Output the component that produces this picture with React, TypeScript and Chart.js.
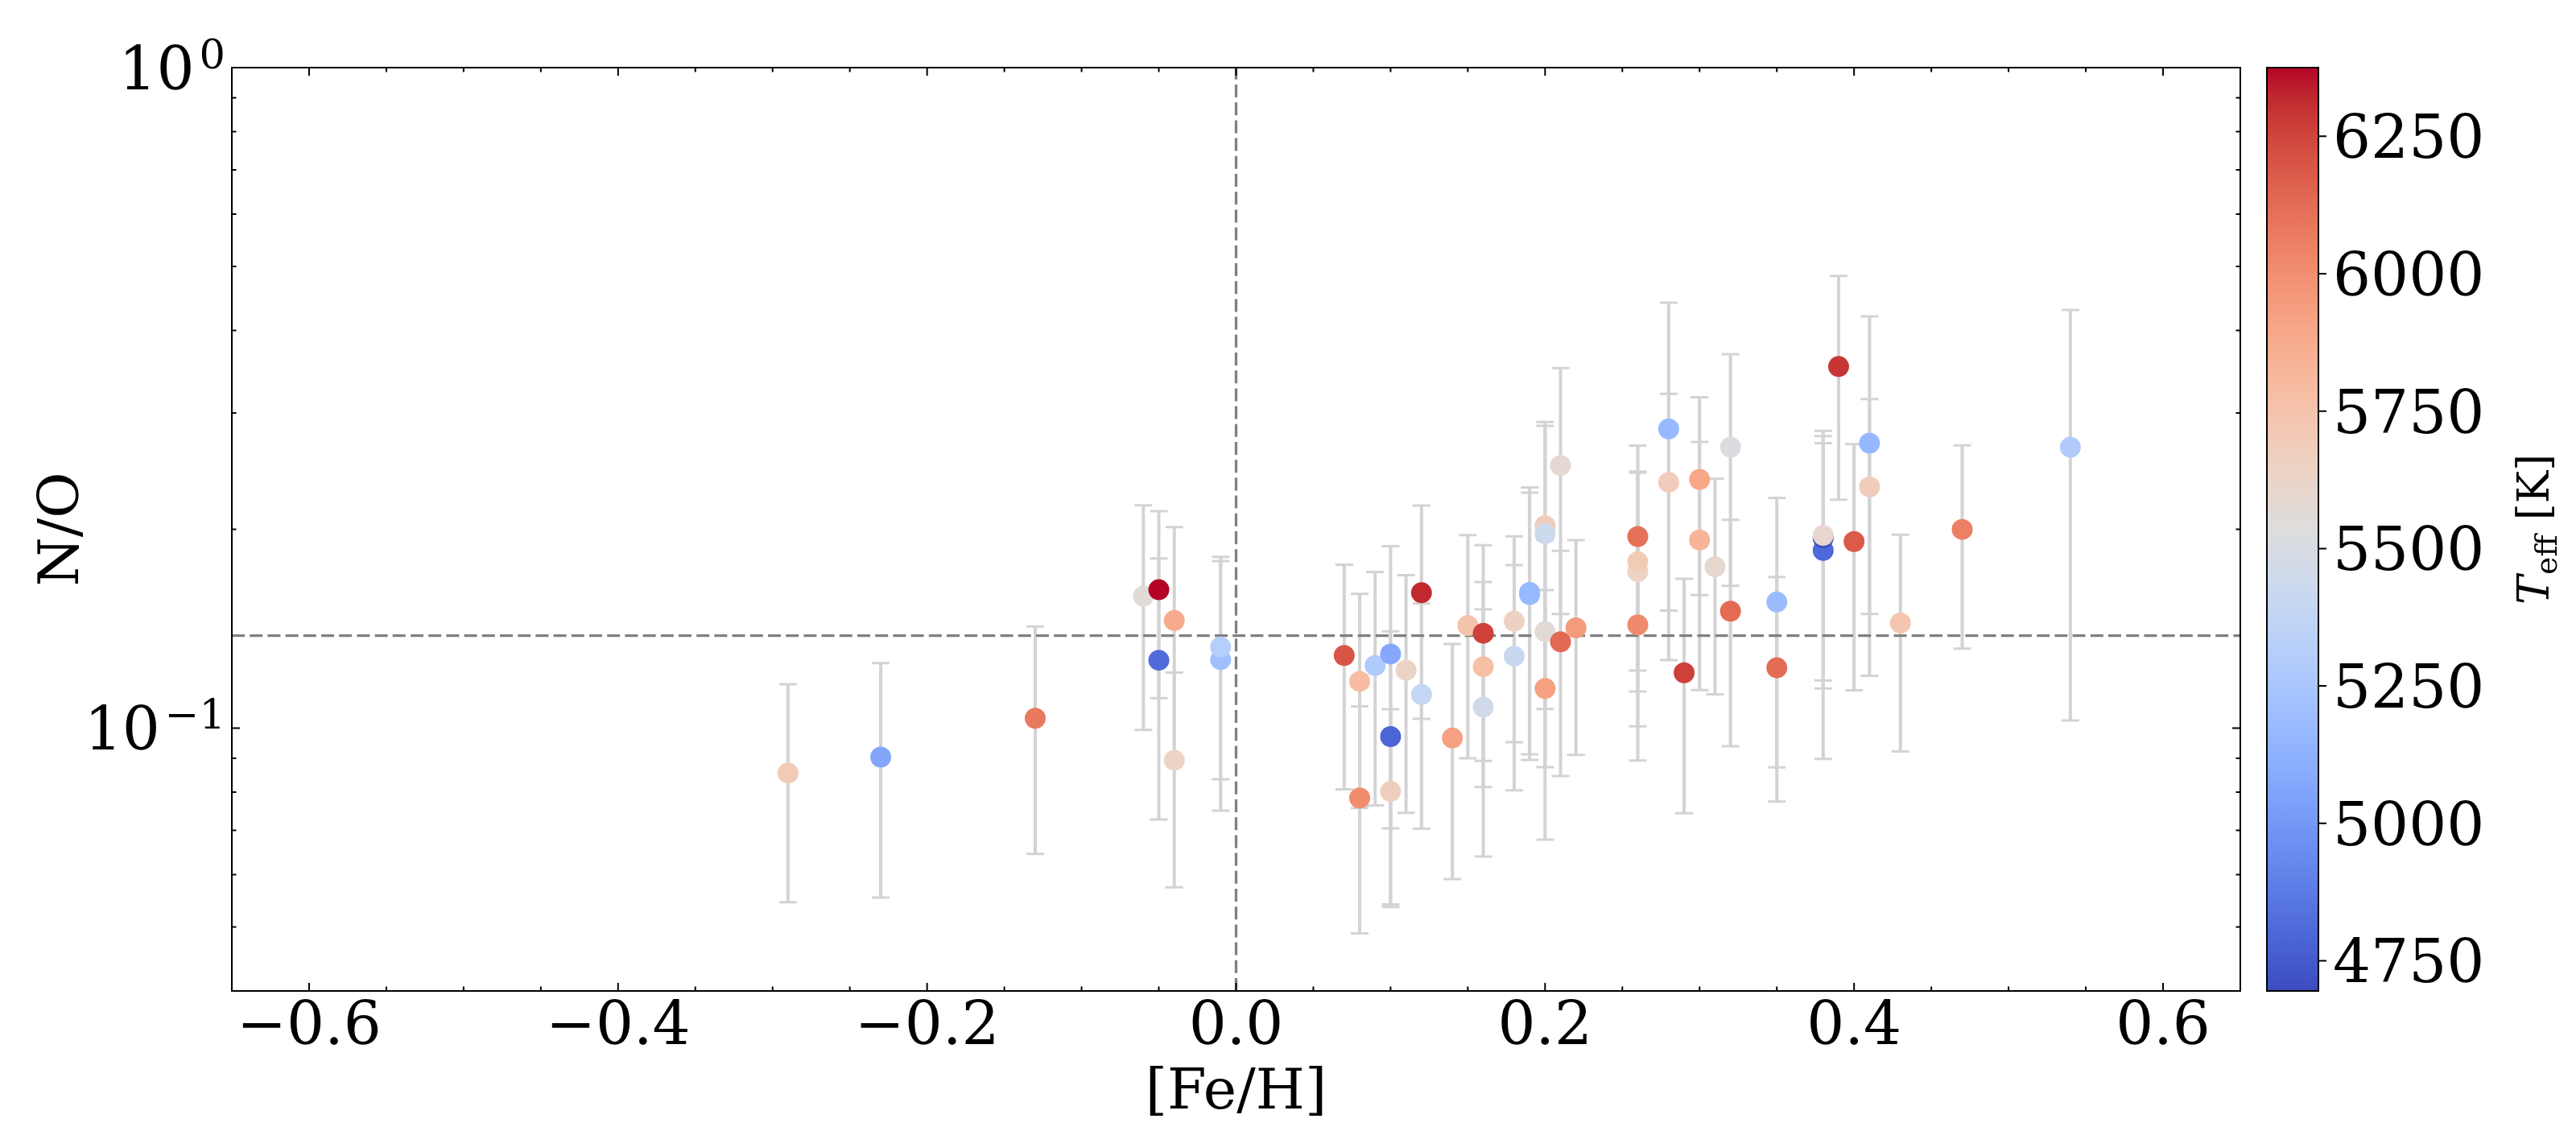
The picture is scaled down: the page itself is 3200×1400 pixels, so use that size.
import { useEffect, useRef } from "react"
import { Chart, registerables, type Plugin } from "chart.js"

Chart.register(...registerables)

// [Fe/H], N/O, N/O error and Teff of each star
const feh = [
  -0.29, -0.23, -0.13, -0.06, -0.05, -0.05, -0.04, -0.04, -0.01, -0.01,
  0.07, 0.08, 0.08, 0.09, 0.1, 0.1, 0.1, 0.11, 0.12, 0.12,
  0.14, 0.15, 0.16, 0.16, 0.16, 0.18, 0.18, 0.19, 0.19, 0.2,
  0.2, 0.2, 0.2, 0.21, 0.21, 0.22, 0.26, 0.26, 0.26, 0.26,
  0.28, 0.28, 0.29, 0.3, 0.3, 0.31, 0.32, 0.32, 0.35, 0.35,
  0.38, 0.38, 0.38, 0.39, 0.4, 0.41, 0.41, 0.43, 0.47, 0.54,
]
const nO = [
  0.0855, 0.0904, 0.1035, 0.1584, 0.1267, 0.162, 0.1455, 0.0894, 0.127, 0.1327,
  0.1288, 0.1177, 0.0784, 0.1244, 0.1295, 0.0971, 0.0802, 0.1224, 0.1603, 0.1124,
  0.0966, 0.143, 0.1392, 0.1239, 0.1076, 0.1452, 0.1285, 0.1593, 0.1605, 0.2026,
  0.1969, 0.14, 0.1148, 0.2499, 0.1351, 0.1418, 0.195, 0.1726, 0.1786, 0.1433,
  0.2838, 0.2356, 0.1213, 0.238, 0.1927, 0.1755, 0.2662, 0.1503, 0.1552, 0.1234,
  0.1858, 0.1941, 0.1958, 0.3527, 0.1916, 0.27, 0.2319, 0.1442, 0.1999, 0.2662,
]
const nOErr = [
  0.031, 0.035, 0.039, 0.059, 0.054, 0.051, 0.056, 0.032, 0.052, 0.049,
  0.048, 0.042, 0.0295, 0.048, 0.059, 0.043, 0.0266, 0.048, 0.057, 0.042,
  0.0375, 0.053, 0.05, 0.0425, 0.0437, 0.05, 0.048, 0.068, 0.071, 0.088,
  0.09, 0.0527, 0.047, 0.101, 0.0505, 0.0507, 0.0728, 0.072, 0.065, 0.054,
  0.157, 0.085, 0.047, 0.079, 0.0785, 0.063, 0.102, 0.0564, 0.068, 0.046,
  0.096, 0.076, 0.081, 0.131, 0.0775, 0.15, 0.083, 0.052, 0.068, 0.1635,
]
const teff = [
  5700, 5065, 6080, 5560, 4815, 6375, 5885, 5640, 5205, 5310,
  6200, 5790, 6010, 5280, 5075, 4790, 5675, 5635, 6320, 5385,
  5925, 5750, 6260, 5775, 5460, 5650, 5410, 5160, 5165, 5685,
  5435, 5570, 5925, 5585, 6135, 5950, 6110, 5640, 5700, 6020,
  5165, 5690, 6260, 5900, 5835, 5595, 5520, 6130, 5180, 6125,
  4805, 4700, 5600, 6290, 6185, 5160, 5685, 5735, 6055, 5285,
]

const xMajorTicks = [-0.6, -0.4, -0.2, 0, 0.2, 0.4, 0.6]
const xMinorTicks = [
  -0.55, -0.5, -0.45, -0.35, -0.3, -0.25, -0.15, -0.1, -0.05,
  0.05, 0.1, 0.15, 0.25, 0.3, 0.35, 0.45, 0.5, 0.55,
]
const yMajorTicks = [0.1, 1]
const yMajorLabels = [["10", "\u22121"], ["10", "0"]]
const yMinorTicks = [0.05, 0.06, 0.07, 0.08, 0.09, 0.2, 0.3, 0.4, 0.5, 0.6, 0.7, 0.8, 0.9]
const cbarTicks = [4750, 5000, 5250, 5500, 5750, 6000, 6250]
const teffMin = 4695
const teffMax = 6375
const solarNO = 0.138
const solarFeH = 0

// matplotlib coolwarm (Moreland) control points
const coolwarmStops = [
  [59, 76, 192], [68, 90, 204], [77, 104, 215], [87, 117, 225], [98, 130, 234],
  [108, 142, 241], [119, 154, 247], [130, 165, 251], [141, 176, 254], [152, 185, 255],
  [163, 194, 255], [174, 201, 253], [184, 208, 249], [194, 213, 244], [204, 217, 238],
  [213, 219, 230], [221, 221, 221], [229, 216, 209], [236, 211, 197], [241, 204, 185],
  [245, 196, 173], [247, 187, 160], [247, 177, 148], [247, 166, 135], [244, 154, 123],
  [241, 141, 111], [236, 127, 99], [229, 112, 88], [222, 96, 77], [213, 80, 66],
  [203, 62, 56], [192, 40, 47], [180, 4, 38],
]

function coolwarm(t: number) {
  const c = Math.min(1, Math.max(0, t)) * (coolwarmStops.length - 1)
  const i = Math.min(Math.floor(c), coolwarmStops.length - 2)
  const f = c - i
  const a = coolwarmStops[i]
  const b = coolwarmStops[i + 1]
  const m = (k: number) => Math.round(a[k] + (b[k] - a[k]) * f)
  return `rgb(${m(0)},${m(1)},${m(2)})`
}

const SERIF = '"DejaVu Serif", serif'
const TICK_FONT = 74
const LABEL_FONT = 70

const fmtX = (v: number) => {
  const s = Math.abs(v).toFixed(1)
  return v < -1e-9 ? "\u2212" + s : s
}

const errorBars: Plugin<"scatter"> = {
  id: "errorBars",
  beforeDatasetsDraw(chart) {
    const { ctx, chartArea: area } = chart
    const x = chart.scales.x
    const y = chart.scales.y
    ctx.save()
    ctx.strokeStyle = "#d3d3d3"
    feh.forEach((v, i) => {
      const px = x.getPixelForValue(v)
      const top = y.getPixelForValue(nO[i] + nOErr[i])
      const bot = y.getPixelForValue(nO[i] - nOErr[i])
      ctx.lineWidth = 4
      ctx.beginPath()
      ctx.moveTo(px, top)
      ctx.lineTo(px, bot)
      ctx.stroke()
      ctx.lineWidth = 3
      ctx.beginPath()
      ctx.moveTo(px - 11, top)
      ctx.lineTo(px + 11, top)
      ctx.moveTo(px - 11, bot)
      ctx.lineTo(px + 11, bot)
      ctx.stroke()
    })

    // solar reference lines
    ctx.strokeStyle = "#808080"
    ctx.lineWidth = 3.3
    ctx.setLineDash([16, 6.2])
    const sy = y.getPixelForValue(solarNO)
    ctx.beginPath()
    ctx.moveTo(area.left, sy)
    ctx.lineTo(area.right, sy)
    ctx.stroke()
    const sx = x.getPixelForValue(solarFeH)
    ctx.beginPath()
    ctx.moveTo(sx, area.bottom)
    ctx.lineTo(sx, area.top)
    ctx.stroke()
    ctx.restore()
  },
}

const frame: Plugin<"scatter"> = {
  id: "frame",
  afterDraw(chart) {
    const { ctx, chartArea: a } = chart
    const x = chart.scales.x
    const y = chart.scales.y
    ctx.save()
    ctx.strokeStyle = "#000"
    ctx.lineWidth = 2
    ctx.strokeRect(a.left, a.top, a.right - a.left, a.bottom - a.top)

    const tick = (vals: number[], len: number) => {
      ctx.beginPath()
      vals.forEach((v) => {
        const px = x.getPixelForValue(v)
        ctx.moveTo(px, a.bottom)
        ctx.lineTo(px, a.bottom - len)
        ctx.moveTo(px, a.top)
        ctx.lineTo(px, a.top + len)
      })
      ctx.stroke()
    }
    const tickY = (vals: number[], len: number) => {
      ctx.beginPath()
      vals.forEach((v) => {
        const py = y.getPixelForValue(v)
        ctx.moveTo(a.left, py)
        ctx.lineTo(a.left + len, py)
        ctx.moveTo(a.right, py)
        ctx.lineTo(a.right - len, py)
      })
      ctx.stroke()
    }
    tick(xMajorTicks, 10)
    tick(xMinorTicks, 5.5)
    tickY(yMajorTicks, 10)
    tickY(yMinorTicks, 5.5)

    // tick labels
    ctx.fillStyle = "#000"
    ctx.font = `${TICK_FONT}px ${SERIF}`
    ctx.textAlign = "center"
    ctx.textBaseline = "alphabetic"
    xMajorTicks.forEach((v) => {
      ctx.fillText(fmtX(v), x.getPixelForValue(v), a.bottom + 66)
    })
    yMajorTicks.forEach((v, i) => {
      const py = y.getPixelForValue(v)
      const [base, sup] = yMajorLabels[i]
      ctx.font = `51px ${SERIF}`
      ctx.textAlign = "right"
      const supW = ctx.measureText(sup).width
      ctx.fillText(sup, a.left - 8, py + 1)
      ctx.font = `${TICK_FONT}px ${SERIF}`
      ctx.fillText(base, a.left - 8 - supW - 6, py + 27)
    })

    // axis titles
    ctx.font = `${LABEL_FONT}px ${SERIF}`
    ctx.textAlign = "center"
    ctx.fillText("[Fe/H]", (a.left + a.right) / 2, 1377)
    ctx.save()
    ctx.translate(97, (a.top + a.bottom) / 2)
    ctx.rotate(-Math.PI / 2)
    ctx.fillText("N/O", 0, 0)
    ctx.restore()

    // colour bar
    const cx0 = 2816
    const cx1 = 2880
    const grad = ctx.createLinearGradient(0, a.bottom, 0, a.top)
    coolwarmStops.forEach((_, i) => {
      const t = i / (coolwarmStops.length - 1)
      grad.addColorStop(t, coolwarm(t))
    })
    ctx.fillStyle = grad
    ctx.fillRect(cx0, a.top, cx1 - cx0, a.bottom - a.top)
    ctx.strokeRect(cx0, a.top, cx1 - cx0, a.bottom - a.top)
    const cy = (t: number) => a.bottom - ((t - teffMin) / (teffMax - teffMin)) * (a.bottom - a.top)
    ctx.beginPath()
    cbarTicks.forEach((t) => {
      ctx.moveTo(cx1, cy(t))
      ctx.lineTo(cx1 + 10, cy(t))
    })
    ctx.stroke()
    ctx.fillStyle = "#000"
    ctx.font = `${TICK_FONT}px ${SERIF}`
    ctx.textAlign = "left"
    cbarTicks.forEach((t) => {
      ctx.fillText(String(t), 2898, cy(t) + 27)
    })

    // colour bar label: T_eff [K]
    ctx.save()
    ctx.translate(3166, (a.top + a.bottom) / 2)
    ctx.rotate(-Math.PI / 2)
    ctx.font = `italic 54px ${SERIF}`
    const wT = ctx.measureText("T").width
    ctx.font = `38px ${SERIF}`
    const wSub = ctx.measureText("eff").width
    ctx.font = `54px ${SERIF}`
    const wK = ctx.measureText(" [K]").width
    let px = -(wT + wSub + wK + 2) / 2
    ctx.textAlign = "left"
    ctx.font = `italic 54px ${SERIF}`
    ctx.fillText("T", px, 0)
    px += wT + 1
    ctx.font = `38px ${SERIF}`
    ctx.fillText("eff", px, 10)
    px += wSub + 1
    ctx.font = `54px ${SERIF}`
    ctx.fillText(" [K]", px, 0)
    ctx.restore()

    ctx.restore()
  },
}

export default function App() {
  const canvasRef = useRef<HTMLCanvasElement>(null)
  const chartRef = useRef<Chart<"scatter"> | null>(null)

  useEffect(() => {
    if (!canvasRef.current) return
    if (chartRef.current) chartRef.current.destroy()

    chartRef.current = new Chart(canvasRef.current, {
      type: "scatter",
      data: {
        datasets: [
          {
            data: feh.map((v, i) => ({ x: v, y: nO[i] })),
            pointBackgroundColor: teff.map((t) => coolwarm((t - teffMin) / (teffMax - teffMin))),
            pointBorderWidth: 0,
            pointRadius: 13,
          },
        ],
      },
      options: {
        responsive: false,
        devicePixelRatio: 1,
        animation: false,
        events: [],
        layout: { padding: { left: 0, right: 417, top: 84, bottom: 0 } },
        plugins: { legend: { display: false }, tooltip: { enabled: false } },
        scales: {
          x: {
            type: "linear",
            min: -0.65,
            max: 0.65,
            grid: { display: false },
            border: { display: false },
            ticks: { display: false },
            afterFit: (s) => {
              s.height = 169
              s.paddingLeft = 0
              s.paddingRight = 0
            },
          },
          y: {
            type: "logarithmic",
            min: 0.04,
            max: 1,
            grid: { display: false },
            border: { display: false },
            ticks: { display: false },
            afterFit: (s) => {
              s.width = 288
              s.paddingTop = 0
              s.paddingBottom = 0
            },
          },
        },
      },
      plugins: [errorBars, frame],
    })

    return () => {
      if (chartRef.current) {
        chartRef.current.destroy()
        chartRef.current = null
      }
    }
  }, [])

  return (
    <div style={{ position: "fixed", left: 0, top: 0, width: 3200, height: 1400, background: "#fff" }}>
      <canvas ref={canvasRef} width={3200} height={1400} style={{ display: "block", width: 3200, height: 1400 }} />
    </div>
  )
}
